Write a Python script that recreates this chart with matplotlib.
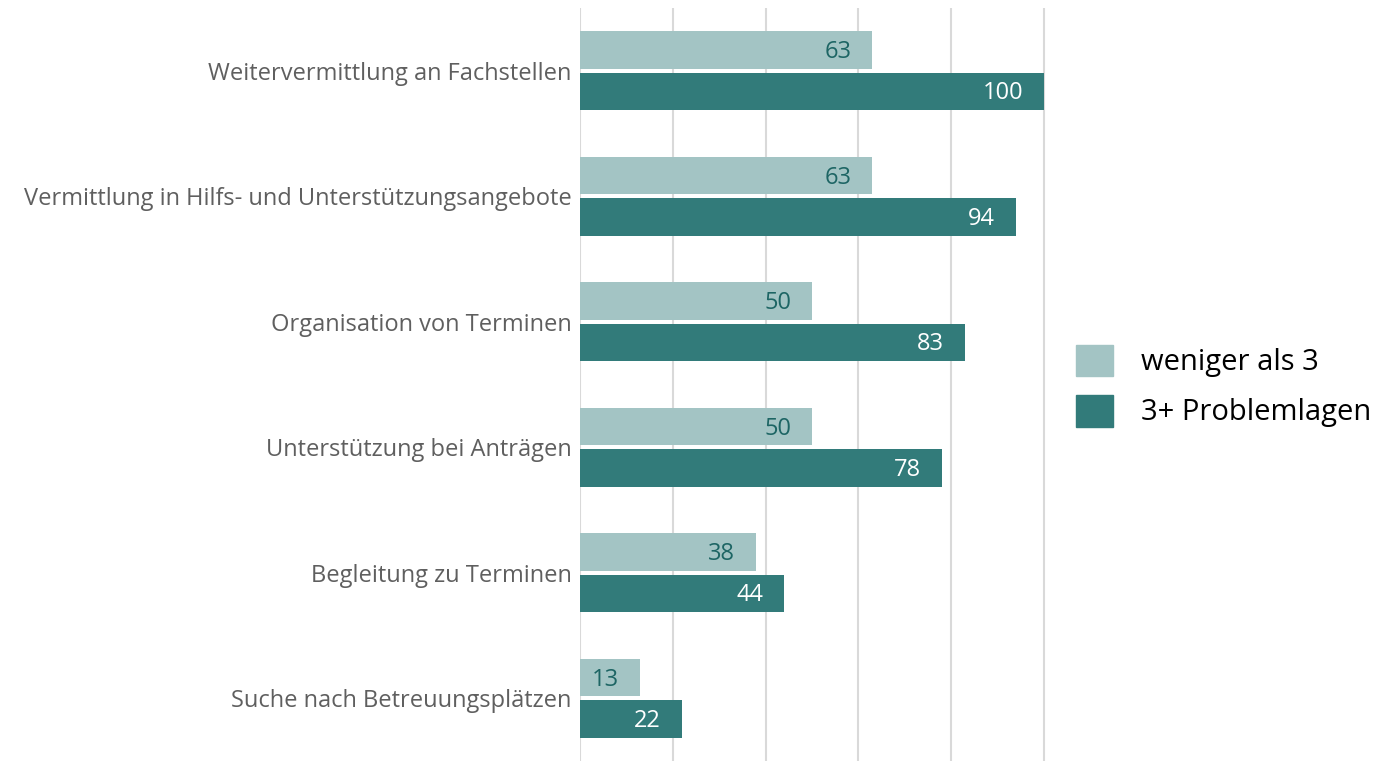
import numpy as np
import matplotlib.pyplot as plt
from matplotlib.patches import Patch

# Daten
categories = ['Weitervermittlung an Fachstellen',
              'Vermittlung in Hilfs- und Unterstützungsangebote',
              'Organisation von Terminen',
              'Unterstützung bei Anträgen',
              'Begleitung zu Terminen',
              'Suche nach Betreuungsplätzen']
weniger_als_3 = [63, 63, 50, 50, 38, 13]
drei_plus = [100, 94, 83, 78, 44, 22]
series_names = ['weniger als 3', '3+ Problemlagen']

light = '#a3c4c4'
dark = '#327b7a'

plt.rcParams['font.family'] = ['Open Sans', 'DejaVu Sans']

fig = plt.figure(figsize=(13.91, 7.61), dpi=100)
ax = fig.add_axes([580 / 1391, 0, 466 / 1391, 753 / 761])

y = np.arange(len(categories))
h = 0.30
off = 0.165

b1 = ax.barh(y - off, weniger_als_3, height=h, color=light, zorder=2)
b2 = ax.barh(y + off, drei_plus, height=h, color=dark, zorder=2)

# Werte in die Balken schreiben
for rect, v in zip(b1, weniger_als_3):
    ax.annotate(str(v), (v, rect.get_y() + rect.get_height() / 2),
                xytext=(-21, -2), textcoords='offset pixels',
                ha='right', va='center', fontsize=17, color='#1d6564')
for rect, v in zip(b2, drei_plus):
    ax.annotate(str(v), (v, rect.get_y() + rect.get_height() / 2),
                xytext=(-21, -2), textcoords='offset pixels',
                ha='right', va='center', fontsize=17, color='white')

ax.set_ylim(len(categories) - 0.5, -0.5)
ax.set_xlim(0, 100.4)
ax.set_xticks([0, 20, 40, 60, 80, 100])
ax.xaxis.grid(True, color='#d9d9d9', linewidth=1.5, zorder=0)
ax.set_axisbelow(True)
ax.tick_params(axis='x', length=0, labelbottom=False)
ax.tick_params(axis='y', length=0, pad=6)
ax.set_yticks(y)
ax.set_yticklabels(categories, fontsize=17, color='#5f5f5f')
for s in ax.spines.values():
    s.set_visible(False)

handles = [Patch(color=light), Patch(color=dark)]
fig.legend(handles, series_names, loc='center left', bbox_to_anchor=(1076 / 1391, 375 / 761),
           frameon=False, fontsize=21, borderpad=0, borderaxespad=0,
           handlelength=1.27, handleheight=1.3,
           labelspacing=0.6, handletextpad=0.95)

fig.savefig('out.png', dpi=100)
